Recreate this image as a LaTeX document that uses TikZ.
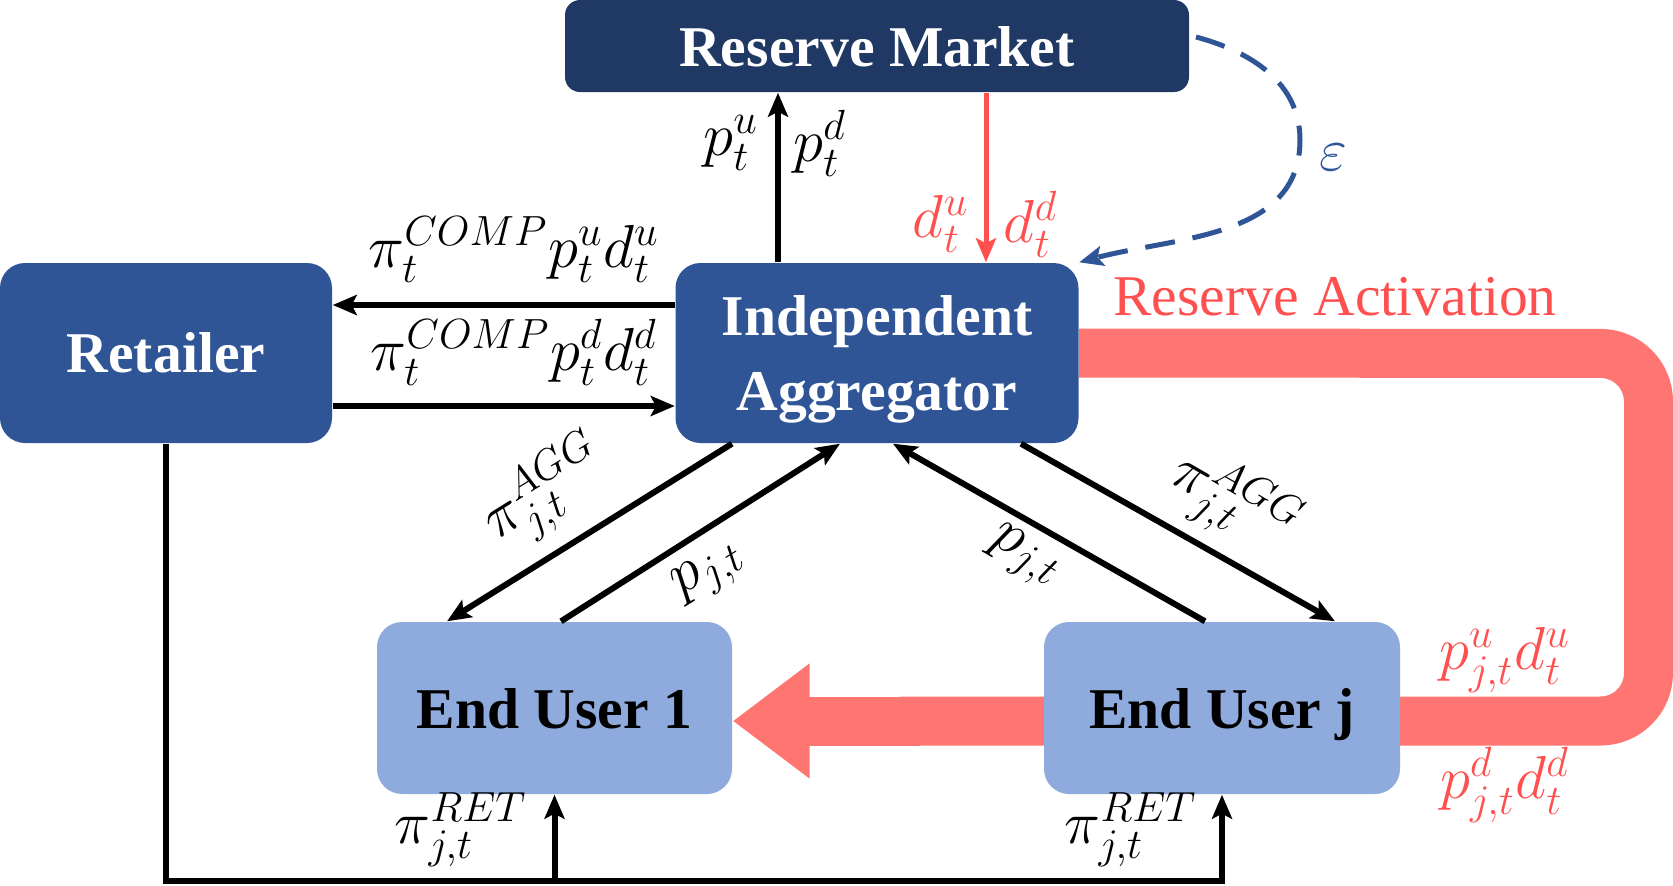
\documentclass[tikz,border=0pt]{standalone}
\usepackage{amsmath,amssymb}
\usepackage{fontspec}
\setmainfont{Liberation Serif}
\usepackage{tikz}
\usetikzlibrary{arrows.meta,backgrounds}
\usepackage{xcolor}
\definecolor{navy}{HTML}{203864}
\definecolor{midblue}{HTML}{2F5597}
\definecolor{lightblue}{HTML}{8FAADC}
\definecolor{bandred}{HTML}{FF7571}
\definecolor{txtred}{HTML}{FF5050}

\begin{document}
\begin{tikzpicture}[>={Stealth[length=0.24cm,width=0.2cm,inset=0.05cm]},line cap=butt,
  box/.style={rounded corners=0.25cm,inner sep=0pt,align=center,text depth=0pt,
    font=\fontsize{16.4}{21.4}\selectfont\bfseries},
  blk/.style={->,line width=0.06cm},
  lbl/.style={font=\fontsize{17}{20}\selectfont,inner sep=0pt}]
\useasboundingbox (0,0) rectangle (16.73,8.85);
\node[box,fill=navy,text=white,minimum width=6.24cm,minimum height=0.92cm,rounded corners=0.15cm] (RM) at (8.77,8.39) {Reserve Market};
\node[box,fill=midblue,text=white,minimum width=3.32cm,minimum height=1.8cm] (ret) at (1.66,5.32) {Retailer};
\node[box,fill=midblue,text=white,minimum width=4.03cm,minimum height=1.8cm] (IA) at (8.77,5.32) {Independent\\Aggregator};
\node[box,fill=lightblue,minimum width=3.55cm,minimum height=1.72cm] (EU1) at (5.545,1.77) {End User 1};
\node[box,fill=lightblue,minimum width=3.56cm,minimum height=1.72cm] (EUj) at (12.22,1.77) {End User j};
\coordinate (bus) at (0,0.04);
% reserve activation band
\begin{scope}[on background layer]
\draw[bandred,line width=0.49cm,rounded corners=0.48cm] (IA.east) -- (16.485,5.315) -- (16.485,1.64) -- (9.0,1.64);
\draw[bandred,line width=0.49cm,-{Triangle[length=0.77cm,width=1.1cm]}] (9.2,1.64) -- ([yshift=-0.13cm]EU1.east);
\end{scope}
% market links
\draw[blk] ([xshift=-0.99cm]IA.north) -- ([xshift=-0.99cm]RM.south);
\draw[->,txtred,line width=0.05cm] ([xshift=1.09cm]RM.south) -- ([xshift=1.09cm]IA.north);
\draw[->,midblue,line width=0.05cm,dash pattern=on 0.3cm off 0.18cm] (11.96,8.48) to[out=-15,in=90] (13.0,7.45) to[out=-90,in=15] (IA.north east);
\node[lbl] (pu) at (7.31,7.42) {$p_t^u$};
\node[lbl] (pd) at (8.2,7.42) {$p_t^d$};
\node[lbl,text=txtred] (du) at (9.41,6.61) {$d_t^u$};
\node[lbl,text=txtred] (dd) at (10.31,6.61) {$d_t^d$};
\node[lbl,text=midblue] (eps) at (13.33,7.28) {$\varepsilon$};
% retailer links
\draw[blk] ([yshift=0.48cm]IA.west) -- ([yshift=0.48cm]ret.east);
\draw[blk] ([yshift=-0.53cm]ret.east) -- ([yshift=-0.53cm]IA.west);
\node[lbl] (compu) at (5.14,6.35) {$\pi_t^{COMP}p_t^u d_t^u$};
\node[lbl] (compd) at (5.14,5.33) {$\pi_t^{COMP}p_t^d d_t^d$};
% end user links
\draw[blk] ([xshift=-1.45cm]IA.south) -- ([xshift=-1.075cm]EU1.north);
\draw[blk] ([xshift=0.065cm]EU1.north) -- ([xshift=-0.37cm]IA.south);
\draw[blk] ([xshift=-0.17cm]EUj.north) -- ([xshift=0.16cm]IA.south);
\draw[blk] ([xshift=1.44cm]IA.south) -- ([xshift=1.13cm]EUj.north);
\node[lbl,rotate=32] (agg1) at (5.46,3.92) {$\pi_{j,t}^{AGG}$};
\node[lbl,rotate=32] (pjt1) at (7.10,3.12) {$p_{j,t}$};
\node[lbl,rotate=-30] (pjt2) at (10.24,3.28) {$p_{j,t}$};
\node[lbl,rotate=-30] (agg2) at (12.33,3.82) {$\pi_{j,t}^{AGG}$};
% retail price bus
\draw[blk] (ret.south) -- (ret.south |- bus) -| (EUj.south);
\draw[blk] (EU1.south |- bus) -- (EU1.south);
\node[lbl] (ret1) at (4.61,0.55) {$\pi_{j,t}^{RET}$};
\node[lbl] (ret2) at (11.31,0.55) {$\pi_{j,t}^{RET}$};
% activation labels
\node[font=\fontsize{16.4}{20}\selectfont,text=txtred,inner sep=0pt] (act) at (13.35,5.88) {Reserve Activation};
\node[lbl,text=txtred] (pdu) at (15.05,2.25) {$p_{j,t}^u d_t^u$};
\node[lbl,text=txtred] (pdd) at (15.05,1.00) {$p_{j,t}^d d_t^d$};
\end{tikzpicture}
\end{document}
